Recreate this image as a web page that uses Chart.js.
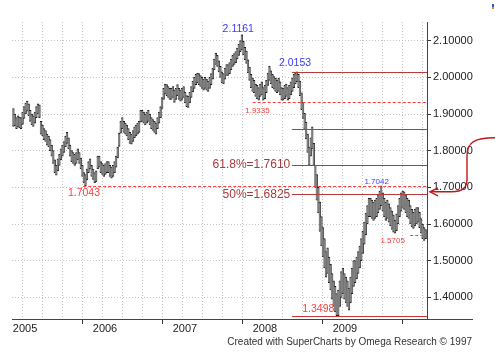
<!DOCTYPE html>
<html><head><meta charset="utf-8">
<script src="https://cdn.jsdelivr.net/npm/chart.js@4/dist/chart.umd.min.js"></script>
<style>html,body{margin:0;padding:0;background:#fff;overflow:hidden}canvas{display:block}</style>
</head><body>
<canvas id="c" width="495" height="357"></canvas>
<script>
// ---- data ----
const firstWeek = '2005-01-03';
const lows = [
1.866,1.868,1.860,1.865,1.862,1.860,1.872,1.888,1.900,1.908,
1.895,1.880,1.870,1.866,1.875,1.890,1.900,1.890,1.845,1.840,
1.830,1.825,1.815,1.810,1.800,1.785,1.765,1.740,1.733,1.745,
1.760,1.775,1.785,1.795,1.810,1.820,1.805,1.785,1.770,1.765,
1.760,1.765,1.775,1.765,1.750,1.730,1.712,1.704,1.720,1.740,
1.750,1.730,1.722,1.712,1.715,1.750,1.755,1.740,1.735,1.730,
1.735,1.740,1.740,1.730,1.725,1.730,1.740,1.755,1.780,1.812,
1.848,1.860,1.850,1.845,1.840,1.830,1.820,1.818,1.825,1.835,
1.840,1.845,1.850,1.878,1.880,1.875,1.870,1.875,1.880,1.870,
1.860,1.855,1.850,1.845,1.860,1.875,1.890,1.915,1.940,1.955,
1.950,1.945,1.940,1.940,1.945,1.932,1.940,1.950,1.940,1.935,
1.940,1.945,1.930,1.920,1.918,1.930,1.945,1.960,1.970,1.980,
1.985,1.980,1.975,1.970,1.965,1.970,1.965,1.962,1.970,1.980,
1.995,2.020,2.035,2.030,2.015,2.000,1.985,1.982,1.995,2.005,
2.005,2.010,2.020,2.030,2.035,2.040,2.050,2.060,2.070,2.075,
2.062,2.048,2.038,2.012,1.992,1.972,1.962,1.958,1.948,1.942,
1.938,1.948,1.952,1.938,1.942,1.958,1.978,1.992,1.982,1.972,
1.968,1.962,1.958,1.962,1.952,1.938,1.938,1.942,1.948,1.938,
1.942,1.952,1.962,1.972,1.982,1.988,1.972,1.950,1.912,1.888,
1.858,1.832,1.795,1.760,1.785,1.805,1.760,1.700,1.665,1.630,
1.580,1.540,1.510,1.480,1.455,1.465,1.440,1.420,1.395,1.375,
1.360,1.3498,1.350,1.375,1.400,1.410,1.395,1.385,1.375,1.365,
1.385,1.410,1.430,1.440,1.450,1.465,1.480,1.500,1.520,1.545,
1.570,1.600,1.620,1.620,1.615,1.610,1.615,1.620,1.630,1.640,
1.650,1.635,1.620,1.610,1.615,1.605,1.595,1.585,1.578,1.575,
1.582,1.600,1.620,1.635,1.645,1.640,1.630,1.620,1.615,1.600,
1.592,1.588,1.595,1.600,1.605,1.590,1.575,1.560,1.555,1.560];
const highs = [
1.915,1.900,1.890,1.895,1.892,1.890,1.905,1.920,1.930,1.935,
1.928,1.910,1.900,1.895,1.905,1.920,1.928,1.925,1.880,1.870,
1.860,1.855,1.845,1.840,1.830,1.815,1.800,1.775,1.760,1.778,
1.790,1.805,1.815,1.825,1.840,1.850,1.835,1.815,1.800,1.795,
1.790,1.795,1.805,1.795,1.780,1.760,1.740,1.735,1.750,1.770,
1.778,1.760,1.750,1.740,1.745,1.785,1.785,1.770,1.765,1.760,
1.765,1.770,1.770,1.760,1.755,1.760,1.770,1.785,1.810,1.848,
1.880,1.890,1.880,1.875,1.870,1.860,1.850,1.845,1.855,1.865,
1.870,1.875,1.880,1.910,1.910,1.905,1.900,1.905,1.910,1.900,
1.890,1.885,1.880,1.875,1.890,1.905,1.920,1.945,1.970,1.982,
1.980,1.975,1.970,1.970,1.975,1.965,1.970,1.980,1.970,1.965,
1.970,1.975,1.960,1.950,1.948,1.960,1.975,1.990,2.000,2.008,
2.012,2.010,2.005,2.000,1.995,2.000,1.995,1.990,2.000,2.010,
2.025,2.050,2.066,2.060,2.045,2.030,2.015,2.010,2.025,2.035,
2.035,2.040,2.050,2.060,2.065,2.070,2.080,2.090,2.100,2.1161,
2.098,2.082,2.072,2.048,2.028,2.008,1.998,1.992,1.982,1.978,
1.972,1.982,1.988,1.972,1.978,1.992,2.012,2.030,2.018,2.008,
2.002,1.998,1.992,1.998,1.988,1.972,1.970,1.978,1.982,1.972,
1.978,1.988,1.998,2.008,2.012,2.0153,2.008,1.990,1.958,1.932,
1.902,1.878,1.845,1.810,1.835,1.865,1.820,1.760,1.735,1.700,
1.660,1.620,1.590,1.560,1.525,1.535,1.510,1.490,1.465,1.445,
1.430,1.410,1.420,1.445,1.470,1.480,1.465,1.455,1.445,1.425,
1.455,1.480,1.500,1.500,1.510,1.525,1.540,1.560,1.580,1.605,
1.630,1.650,1.670,1.670,1.665,1.660,1.665,1.670,1.680,1.690,
1.7042,1.685,1.670,1.660,1.665,1.655,1.645,1.635,1.625,1.610,
1.628,1.650,1.670,1.685,1.690,1.688,1.680,1.670,1.665,1.650,
1.640,1.632,1.640,1.645,1.645,1.632,1.615,1.600,1.590,1.585];
const yearTicks = [2005, 2006, 2007, 2008, 2009, 2010];
const yearLabels = ['2005', '2006', '2007', '2008', '2009'];
const priceTicks = [1.4, 1.5, 1.6, 1.7, 1.8, 1.9, 2.0, 2.1];
const levelValues = { peak: 2.1161, swingHigh: 2.0153, rangeLow: 1.9335, fib764: 1.8582,
  fib618: 1.7610, fib50: 1.6825, low2005: 1.7043, high2009: 1.7042, low2010: 1.5705, swingLow: 1.3498 };
const footerText = 'Created with SuperCharts by Omega Research \u00A9 1997';

// ---- derived ----
function fracYear(ms){ const d=new Date(ms); const y=d.getUTCFullYear();
  const s=Date.UTC(y,0,1), e=Date.UTC(y+1,0,1); return y+(ms-s)/(e-s); }
const t0 = Date.parse(firstWeek + 'T00:00:00Z');
const weekX = lows.map((_, i) => fracYear(t0 + i * 7 * 864e5));
const gridTicks = [];
for (let y = yearTicks[0]; y < yearTicks[yearTicks.length-1]; y++) for (let q = 0; q < 4; q++) gridTicks.push(y + q/4);
gridTicks.push(yearTicks[yearTicks.length-1]);

// ---- annotation styling ----
const DARKRED = '#b83c3c', RED = '#ff3b3b', BLUE = '#3b3bff', FIBTXT = '#a83a3e';
const lineSpecs = [
  { v: levelValues.swingHigh, from: 2008.49, color: DARKRED, dash: [] },
  { v: levelValues.rangeLow, from: 2008.0, color: RED, dash: [3,2] },
  { v: levelValues.fib764, from: 2008.49, color: DARKRED, dash: [] },
  { v: levelValues.fib618, from: 2008.49, color: DARKRED, dash: [] },
  { v: levelValues.low2005, from: 2005.88, color: RED, dash: [3,2] },
  { v: levelValues.fib50, from: 2008.49, color: DARKRED, dash: [] },
  { v: levelValues.low2010, from: 2009.97, color: RED, dash: [3,2] },
  { v: levelValues.swingLow, from: 2008.49, color: '#c83838', dash: [] }
];
const labelSpecs = [
  { text: levelValues.peak.toFixed(4), t: 2007.82, v: levelValues.peak, dy: -6, align: 'center', size: 10.5, color: BLUE },
  { text: levelValues.swingHigh.toFixed(4), t: 2008.53, v: levelValues.swingHigh, dy: -8.5, align: 'center', size: 10.5, color: BLUE },
  { text: levelValues.rangeLow.toFixed(4), t: 2008.06, v: levelValues.rangeLow, dy: 9.3, align: 'center', size: 8, color: RED },
  { text: levelValues.low2005.toFixed(4), t: 2005.89, v: levelValues.low2005, dy: 7, align: 'center', size: 10.5, color: RED },
  { text: levelValues.high2009.toFixed(4), t: 2009.55, v: levelValues.high2009, dy: -4, align: 'center', size: 8, color: BLUE },
  { text: levelValues.low2010.toFixed(4), t: 2009.75, v: levelValues.low2010, dy: 6, align: 'center', size: 8, color: RED },
  { text: levelValues.swingLow.toFixed(4), t: 2008.82, v: levelValues.swingLow, dy: -6.4, align: 'center', size: 10.5, color: RED },
  { text: '61.8%=' + levelValues.fib618.toFixed(4), t: 2008.47, v: levelValues.fib618, dy: 0, align: 'right', size: 12, color: FIBTXT },
  { text: '50%=' + levelValues.fib50.toFixed(4), t: 2008.47, v: levelValues.fib50, dy: 1, align: 'right', size: 12, color: FIBTXT }
];
const FONT = '"Liberation Sans", Arial, sans-serif';

const annotPlugin = {
  id: 'annot',
  afterDatasetsDraw(chart) {
    const {ctx, chartArea: ca, scales: {x, y}} = chart;
    ctx.save();
    lineSpecs.forEach(s => {
      const py = Math.round(y.getPixelForValue(s.v)) + 0.5;
      ctx.strokeStyle = s.color; ctx.lineWidth = 1; ctx.setLineDash(s.dash);
      ctx.beginPath(); ctx.moveTo(x.getPixelForValue(s.from), py); ctx.lineTo(ca.right, py); ctx.stroke();
    });
    ctx.setLineDash([]);
    ctx.textBaseline = 'middle';
    labelSpecs.forEach(s => {
      ctx.font = s.size + 'px ' + FONT; ctx.fillStyle = s.color; ctx.textAlign = s.align;
      ctx.fillText(s.text, x.getPixelForValue(s.t), y.getPixelForValue(s.v) + s.dy);
    });
    ctx.restore();
  },
  afterDraw(chart) {
    const {ctx, chartArea: ca, scales: {y}} = chart;
    ctx.save();
    ctx.strokeStyle = '#444'; ctx.lineWidth = 1;
    ctx.beginPath(); ctx.moveTo(ca.right, ca.bottom + 0.5); ctx.lineTo(473, ca.bottom + 0.5); ctx.stroke();
    const tipY = y.getPixelForValue(levelValues.fib50) - 2;
    const tipX = ca.right + 3;
    ctx.strokeStyle = '#c01818'; ctx.lineWidth = 1.4;
    ctx.beginPath();
    ctx.moveTo(495, tipY - 54);
    ctx.bezierCurveTo(475, tipY - 54, 467, tipY - 50, 467, tipY - 36);
    ctx.lineTo(467, tipY - 12);
    ctx.bezierCurveTo(467, tipY - 2, 460, tipY, 452, tipY);
    ctx.lineTo(tipX, tipY);
    ctx.stroke();
    ctx.beginPath();
    ctx.moveTo(tipX + 8, tipY - 4); ctx.lineTo(tipX, tipY); ctx.lineTo(tipX + 8, tipY + 4);
    ctx.stroke();
    ctx.fillStyle = '#2d5bd8'; ctx.fillRect(492, 4, 2, 3);
    ctx.fillStyle = '#e0861e'; ctx.fillRect(492, 7, 2, 2);
    ctx.font = '10px ' + FONT; ctx.fillStyle = '#333'; ctx.textAlign = 'right'; ctx.textBaseline = 'middle';
    ctx.fillText(footerText, 472, 342);
    ctx.restore();
  }
};

new Chart(document.getElementById('c'), {
  type: 'bar',
  data: { datasets: [{
    data: weekX.map((t, i) => ({ x: t, y: [lows[i], highs[i]] })),
    backgroundColor: '#808080', borderColor: '#1c1c1c',
    borderWidth: { top: 1, bottom: 1, left: 0, right: 0.5 }, borderSkipped: false,
    barThickness: 2, grouped: false
  }]},
  options: {
    responsive: false, animation: false, devicePixelRatio: 1,
    layout: { padding: { left: 12, top: 22, right: 0, bottom: 0 } },
    plugins: { legend: { display: false }, tooltip: { enabled: false } },
    scales: {
      x: {
        type: 'linear', min: 2004.99, max: 2010.18, offset: false,
        afterBuildTicks: s => { s.ticks = gridTicks.map(v => ({ value: v })); },
        afterFit: s => { s.height = 38; },
        grid: { color: '#c4c4c4', lineWidth: 1, tickLength: 5,
          tickColor: c => (c.tick && yearTicks.includes(c.tick.value)) ? '#333' : 'rgba(0,0,0,0)' },
        border: { display: true, color: '#444', width: 1, dash: [1, 2] },
        ticks: { align: 'start', padding: -1, autoSkip: false, maxRotation: 0, color: '#222',
          font: { family: FONT, size: 11, lineHeight: 1 },
          callback: v => { const i = yearTicks.indexOf(v); return (i >= 0 && i < yearLabels.length) ? yearLabels[i] : ''; } }
      },
      y: {
        position: 'right', min: 1.341, max: 2.151,
        afterBuildTicks: s => { s.ticks = priceTicks.map(v => ({ value: v })); },
        afterFit: s => { s.width = 68; },
        grid: { color: '#c4c4c4', lineWidth: 1, tickLength: 4, tickColor: '#333' },
        border: { display: true, color: '#444', width: 1, dash: [1, 2] },
        ticks: { padding: 2, color: '#222', font: { family: FONT, size: 11 },
          callback: v => Number(v).toFixed(5) }
      }
    }
  },
  plugins: [annotPlugin]
});
</script>
</body></html>
